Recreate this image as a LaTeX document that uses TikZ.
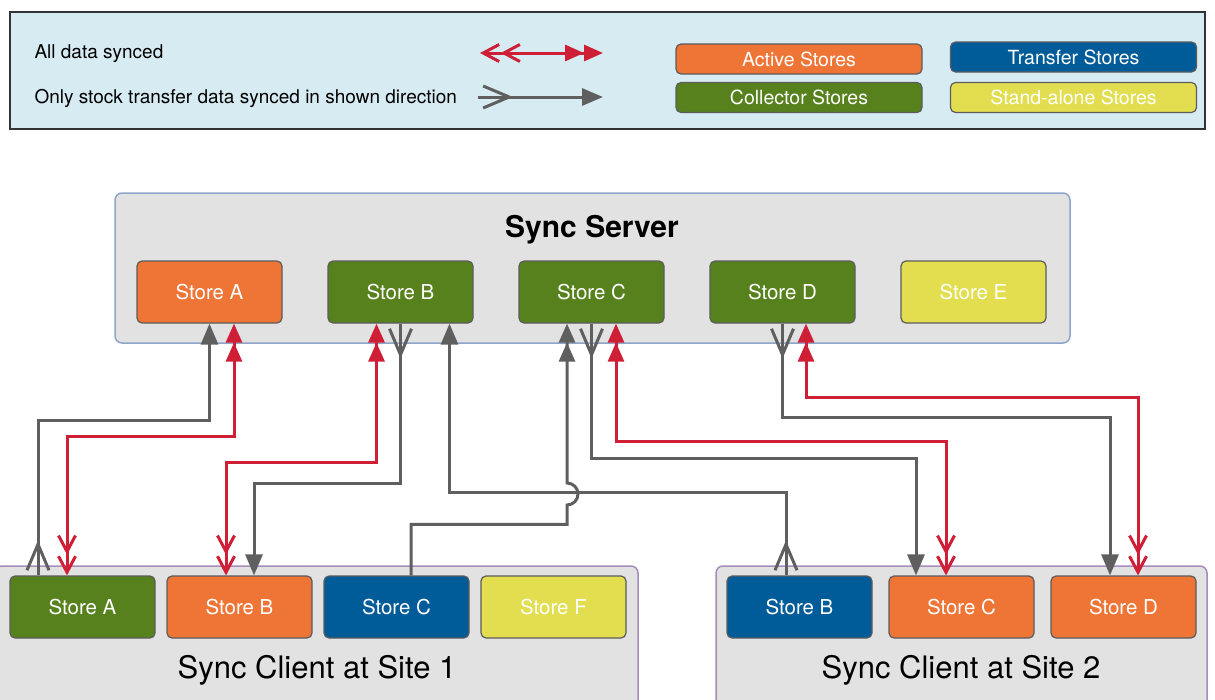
\documentclass[tikz,border=0pt]{standalone}
\usepackage{fontspec}
\setmainfont{TeX Gyre Heros}
\usetikzlibrary{arrows.meta, positioning, decorations.markings}

\definecolor{activeorange}{HTML}{EE7535}
\definecolor{collectorgreen}{HTML}{56811D}
\definecolor{transferblue}{HTML}{005C98}
\definecolor{aloneyellow}{HTML}{E2DE4F}
\definecolor{storeedge}{HTML}{5C5C5C}
\definecolor{boxgray}{HTML}{E2E2E2}
\definecolor{serveredge}{HTML}{8DA5C8}
\definecolor{clientedge}{HTML}{A68CBA}
\definecolor{legendblue}{HTML}{D7ECF2}
\definecolor{syncred}{HTML}{CF1F37}
\definecolor{syncgray}{HTML}{5F5F5F}

\tikzset{
    dbarb/.tip = {Straight Barb[length=16pt, width=17pt, line width=3pt, sep=0pt]Straight Barb[length=16pt, width=17pt, line width=3pt]},
    dtri/.tip  = {Triangle[length=19pt, width=16pt, sep=0pt]Triangle[length=19pt, width=16pt]},
    vbarb/.tip = {Straight Barb[length=26pt, width=22pt, line width=3pt]},
    tri/.tip   = {Triangle[length=21pt, width=17pt]},
}

\begin{document}
\begin{tikzpicture}[
    x = 1pt,
    y = -1pt,
    font = \fontsize{20.5}{24}\selectfont,
    ]

    \tikzstyle{store}=[
    draw = storeedge,
    line width = 1.2pt,
    rounded corners = 5pt,
    minimum width = 145pt,
    minimum height = 62pt,
    inner sep = 0pt,
    text = white,
    ]
    \tikzstyle{key}=[store, minimum width = 246pt, minimum height = 30pt, font = \fontsize{19.5}{22}\selectfont]
    \tikzstyle{active}=[fill = activeorange]
    \tikzstyle{collector}=[fill = collectorgreen]
    \tikzstyle{transfer}=[fill = transferblue]
    \tikzstyle{standalone}=[fill = aloneyellow]
    \tikzstyle{site}=[fill = boxgray, line width = 1.5pt, rounded corners = 7pt]
    \tikzstyle{alldata}=[draw = syncred, line width = 3pt, dbarb-dtri]
    \tikzstyle{stockonly}=[draw = syncgray, line width = 3pt, -tri,
    postaction = {decorate, decoration = {markings, mark = at position 35pt with {\arrow{vbarb}}}}]

    \useasboundingbox (0,0) rectangle (1215,699);

    % legend
    \draw[draw = black!80, fill = legendblue, line width = 1.5pt] (10,12) rectangle (1205,129);
    \node[anchor = west, font = \fontsize{19}{22}\selectfont] (lgAll) at (31,54) {All data synced};
    \node[anchor = west, font = \fontsize{19}{22}\selectfont] (lgStock) at (31,98) {Only stock transfer data synced in shown direction};
    \coordinate (lgR1) at (480,53);
    \coordinate (lgR2) at (603,53);
    \coordinate (lgG1) at (478,97);
    \coordinate (lgG2) at (603,97);
    \draw[alldata] (lgR1) -- (lgR2);
    \draw[stockonly] (lgG1) -- (lgG2);

    \node[key, active] (kActive) at (799,59) {Active Stores};
    \node[key, collector] (kCollector) at (799,97.5) {Collector Stores};
    \node[key, transfer] (kTransfer) at (1073.5,57) {Transfer Stores};
    \node[key, standalone] (kAlone) at (1073.5,97.5) {Stand-alone Stores};

    % server
    \draw[site, draw = serveredge] (115,193) rectangle (1070,343);
    \node[font = \bfseries\fontsize{30}{34}\selectfont] (srvTitle) at (592,230) {Sync Server};
    \node[store, active] (sA) at (209.5,292) {Store A};
    \node[store, collector] (sB) [right=44.8pt of sA] {Store B};
    \node[store, collector] (sC) [right=44.8pt of sB] {Store C};
    \node[store, collector] (sD) [right=44.8pt of sC] {Store D};
    \node[store, standalone] (sE) [right=44.8pt of sD] {Store E};

    % clients
    \draw[site, draw = clientedge] (-5,566) rectangle (638,720);
    \draw[site, draw = clientedge] (716,566) rectangle (1207,720);
    \node[font = \fontsize{31}{34}\selectfont] (c1Title) at (317,670) {Sync Client at Site 1};
    \node[font = \fontsize{31}{34}\selectfont] (c2Title) at (961,670) {Sync Client at Site 2};

    \node[store, collector] (c1A) at (82.5,607) {Store A};
    \node[store, active] (c1B) [right=10.8pt of c1A] {Store B};
    \node[store, transfer] (c1C) [right=10.8pt of c1B] {Store C};
    \node[store, standalone] (c1F) [right=10.8pt of c1C] {Store F};

    \node[store, transfer] (c2B) at (799.5,607) {Store B};
    \node[store, active] (c2C) [right=15.8pt of c2B] {Store C};
    \node[store, active] (c2D) [right=15.8pt of c2C] {Store D};

    \coordinate (hop) at (567,494);

    % links
    \draw[stockonly] ([xshift=-44.5pt]c1A.north) -- ++(0,-155) -| (sA.south);
    \draw[alldata] ([xshift=-15.5pt]c1A.north) -- ++(0,-139) -| ([xshift=24.5pt]sA.south);
    \draw[alldata] ([xshift=-13.5pt]c1B.north) -- ++(0,-113) -| ([xshift=-24pt]sB.south);
    \draw[stockonly] (sB.south) -- ++(0,160) -| ([xshift=14.5pt]c1B.north);
    \draw[stockonly] ([xshift=-13.5pt]c2B.north) -- ++(0,-83) -| ([xshift=49pt]sB.south);
    \draw[draw = syncgray, line width = 3pt, -dtri] ([xshift=14.5pt]c1C.north) -- ++(0,-51)
        -| ([yshift=-11pt]hop) arc[start angle=90, end angle=-90, radius=11] -- ([xshift=-24.5pt]sC.south);
    \draw[stockonly] (sC.south) -- ++(0,135) -| ([xshift=-45.5pt]c2C.north);
    \draw[alldata] ([xshift=-15.5pt]c2C.north) -- ++(0,-134) -| ([xshift=24.5pt]sC.south);
    \draw[stockonly] (sD.south) -- ++(0,94) -| ([xshift=-13.5pt]c2D.north);
    \draw[alldata] ([xshift=14.5pt]c2D.north) -- ++(0,-178) -| ([xshift=23.5pt]sD.south);
\end{tikzpicture}
\end{document}
